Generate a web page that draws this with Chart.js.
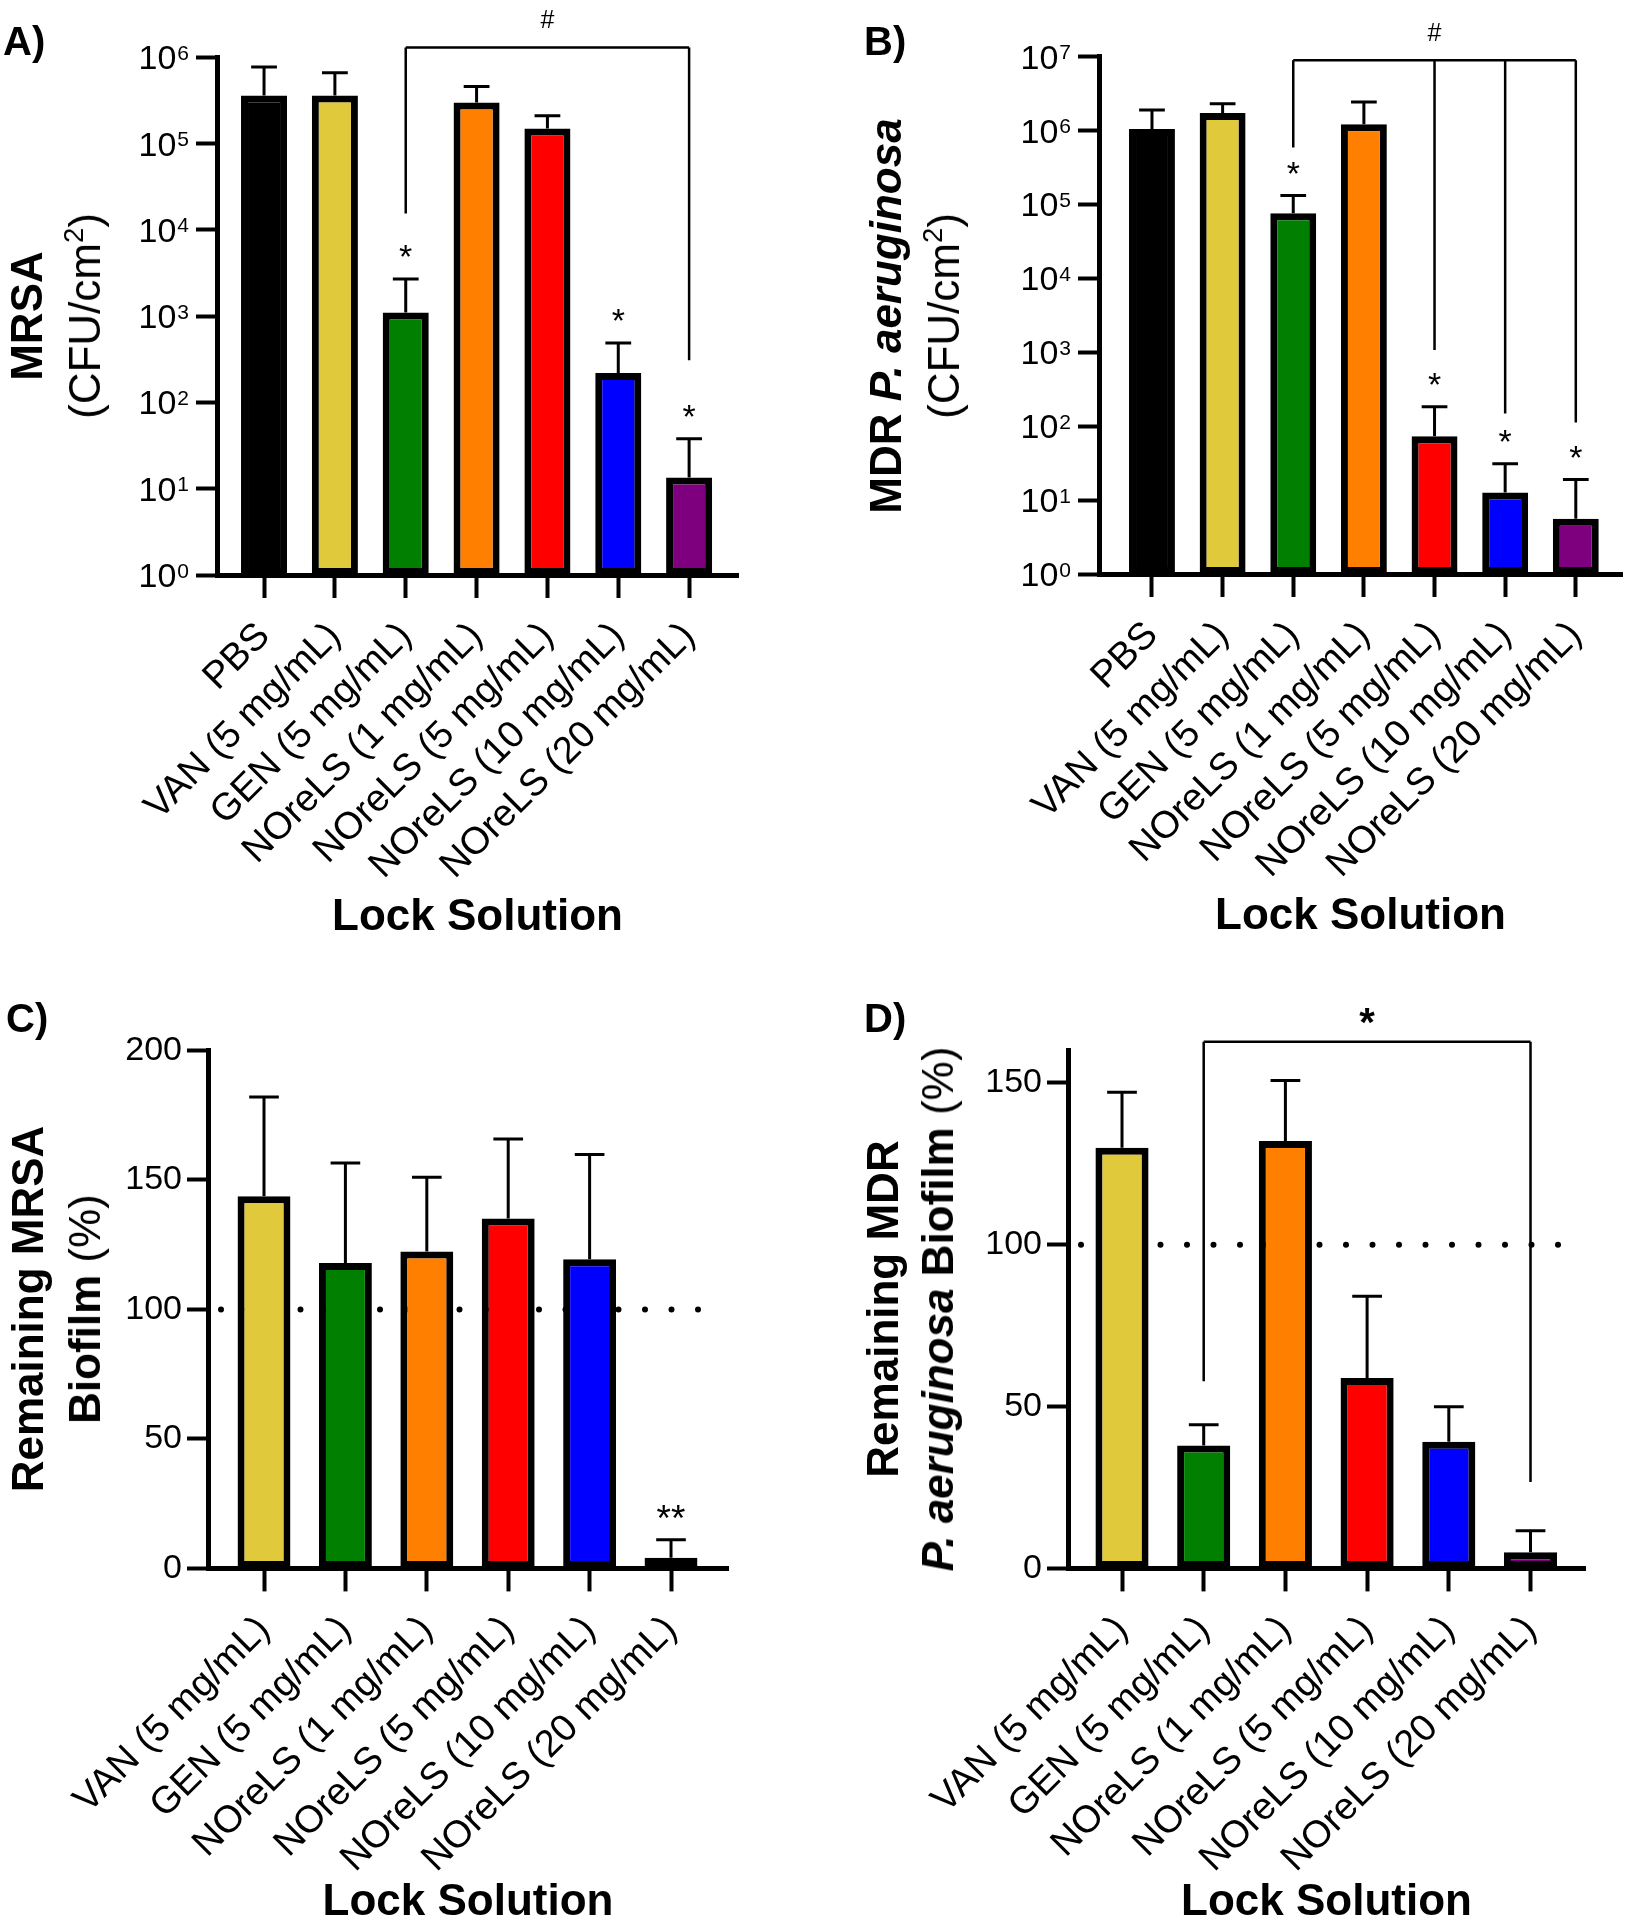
<!DOCTYPE html>
<html>
<head>
<meta charset="utf-8">
<script src="https://cdn.jsdelivr.net/npm/chart.js@4.4.1/dist/chart.umd.min.js"></script>
<style>
  body { margin: 0; background: #fff; }
  #fig { position: relative; width: 1631px; height: 1920px; overflow: hidden; font-family: 'Liberation Sans', Arial, sans-serif; color: #000; }
  canvas { position: absolute; }
  .tag { position: absolute; font-weight: bold; font-size: 40px; line-height: 1; }
  .ytitle { position: absolute; font-size: 44px; line-height: 1; white-space: nowrap; transform: translate(-50%, -50%) rotate(-90deg); }
  .ytitle sup { font-size: 0.62em; vertical-align: 0.62em; line-height: 0; }
</style>
</head>
<body>
<div id="fig">
  <canvas id="chartA" width="815" height="960" style="left:0;top:0"></canvas>
  <canvas id="chartB" width="816" height="960" style="left:815px;top:0"></canvas>
  <canvas id="chartC" width="815" height="990" style="left:0;top:960px"></canvas>
  <canvas id="chartD" width="816" height="990" style="left:815px;top:960px"></canvas>

  <div class="tag" style="left:3px;top:21px">A)</div>
  <div class="tag" style="left:864px;top:21px">B)</div>
  <div class="tag" style="left:6px;top:998px">C)</div>
  <div class="tag" style="left:864px;top:998px">D)</div>

  <div class="ytitle" style="left:27px;top:316px"><b>MRSA</b></div>
  <div class="ytitle" style="left:85px;top:316px">(CFU/cm<sup>2</sup>)</div>
  <div class="ytitle" style="left:886px;top:316px"><b>MDR <i>P. aeruginosa</i></b></div>
  <div class="ytitle" style="left:944px;top:316px">(CFU/cm<sup>2</sup>)</div>
  <div class="ytitle" style="left:28px;top:1309px"><b>Remaining MRSA</b></div>
  <div class="ytitle" style="left:85px;top:1309px"><b>Biofilm</b> (%)</div>
  <div class="ytitle" style="left:883px;top:1309px"><b>Remaining MDR</b></div>
  <div class="ytitle" style="left:938px;top:1309px"><b><i>P. aeruginosa</i> Biofilm</b> (%)</div>
</div>

<script>
const FONT = "'Liberation Sans', Arial, sans-serif";

// groups and colours
const groups7 = ['PBS', 'VAN (5 mg/mL)', 'GEN (5 mg/mL)', 'NOreLS (1 mg/mL)',
  'NOreLS (5 mg/mL)', 'NOreLS (10 mg/mL)', 'NOreLS (20 mg/mL)'];
const groups6 = groups7.slice(1);
const colors7 = ['#000000', '#E1C93C', '#007F00', '#FF7F00', '#FF0000', '#0000FF', '#7F007F'];
const colors6 = colors7.slice(1);

// A) MRSA, CFU/cm2 (mean, top of error bar)
const mrsaCfu = [3.6e5, 3.6e5, 1.1e3, 3.0e5, 1.5e5, 2.2e2, 13.5];
const mrsaCfuErr = [7.7e5, 6.6e5, 2.7e3, 4.6e5, 2.1e5, 4.9e2, 38];
const mrsaCfuStars = ['', '', '*', '', '', '*', '*'];

// B) MDR P. aeruginosa, CFU/cm2
const mdrCfu = [1.05e6, 1.72e6, 7.6e4, 1.22e6, 73, 12.7, 5.6];
const mdrCfuErr = [1.9e6, 2.3e6, 1.32e5, 2.43e6, 183, 31, 19];
const mdrCfuStars = ['', '', '*', '', '*', '*', '*'];

// C) remaining MRSA biofilm, %
const mrsaBio = [143.7, 117.9, 122.4, 135.1, 119.4, 4.1];
const mrsaBioErr = [182, 156.5, 151, 165.8, 159.8, 11.1];
const mrsaBioStars = ['', '', '', '', '', '**'];

// D) remaining MDR P. aeruginosa biofilm, %
const mdrBio = [129.9, 38.0, 132.0, 58.8, 39.1, 5.0];
const mdrBioErr = [147.1, 44.4, 150.7, 84.1, 49.9, 11.6];

// y ticks (log panels are labelled 10 with the power as superscript)
const logTicks6 = [1, 10, 100, 1e3, 1e4, 1e5, 1e6];
const logPowers6 = ['0', '1', '2', '3', '4', '5', '6'];
const logTicks7 = [1, 10, 100, 1e3, 1e4, 1e5, 1e6, 1e7];
const logPowers7 = ['0', '1', '2', '3', '4', '5', '6', '7'];
const pctTicksC = [0, 50, 100, 150, 200];
const pctTicksD = [0, 50, 100, 150];

// significance brackets: legs are [group number, value where the leg stops]
const bracketATop = 1.3e6;
const bracketALegs = [[3, 1.55e4], [7, 309]];
const bracketBTop = 8.9e6;
const bracketBLegs = [[3, 5.9e5], [5, 1.07e3], [6, 148], [7, 112]];
const bracketDTop = 162.7;
const bracketDLegs = [[2, 57.8], [6, 26.7]];

function mark(ctx, text, x, yMid, size, bold) {
  ctx.font = (bold ? 'bold ' : '') + size + 'px ' + FONT;
  ctx.textAlign = 'center';
  ctx.textBaseline = 'alphabetic';
  // asterisks sit high in the em box
  const lift = text[0] === '*' ? 0.57 : 0.36;
  ctx.fillText(text, x, yMid + lift * size);
}

function panel(id, o) {
  const canvas = document.getElementById(id);
  const W = canvas.width, H = canvas.height;
  const a = o.area;
  const titleBottom = o.titleY + 44 * 1.2 / 2;
  const tickLen = 21;

  const decor = {
    id: 'decor',
    beforeDatasetsDraw(chart) {
      if (o.refLine == null) return;
      const {ctx, chartArea} = chart;
      const py = chart.scales.y.getPixelForValue(o.refLine);
      ctx.save();
      ctx.strokeStyle = '#000';
      ctx.lineWidth = 6;
      ctx.lineCap = 'round';
      ctx.setLineDash([0, 26.5]);
      ctx.beginPath();
      ctx.moveTo(chartArea.left + 13, py);
      ctx.lineTo(chartArea.right - 8, py);
      ctx.stroke();
      ctx.restore();
    },
    afterDraw(chart) {
      const {ctx} = chart;
      const x = chart.scales.x, y = chart.scales.y;
      const meta = chart.getDatasetMeta(0);
      ctx.save();
      ctx.strokeStyle = '#000';
      ctx.fillStyle = '#000';

      // 10^n tick labels
      if (o.powers) {
        const right = chart.chartArea.left - tickLen - 7;
        o.yTicks.forEach((v, i) => {
          const py = y.getPixelForValue(v);
          ctx.textAlign = 'right';
          ctx.textBaseline = 'alphabetic';
          ctx.font = '21px ' + FONT;
          ctx.fillText(o.powers[i], right, py + 2.5);
          const w = ctx.measureText(o.powers[i]).width;
          ctx.font = '34px ' + FONT;
          ctx.fillText('10', right - w - 1, py + 12);
        });
      }

      ctx.lineWidth = 3;
      o.errors.forEach((e, i) => {
        const cx = x.getPixelForValue(i + 1);
        const y0 = y.getPixelForValue(o.values[i]);
        const y1 = y.getPixelForValue(e);
        const half = meta.data[i].width * 0.28;
        ctx.beginPath();
        ctx.moveTo(cx, y0); ctx.lineTo(cx, y1);
        ctx.moveTo(cx - half, y1); ctx.lineTo(cx + half, y1);
        ctx.stroke();
        if (o.stars && o.stars[i]) mark(ctx, o.stars[i], cx, y1 - 30, o.starSize || 34, false);
      });

      if (o.bracketLegs) {
        const top = y.getPixelForValue(o.bracketTop);
        const legs = o.bracketLegs.map(([g, v]) => [x.getPixelForValue(g), y.getPixelForValue(v)]);
        ctx.lineWidth = 2.5;
        ctx.beginPath();
        ctx.moveTo(legs[0][0], top);
        ctx.lineTo(legs[legs.length - 1][0], top);
        legs.forEach(([px, py]) => { ctx.moveTo(px, top); ctx.lineTo(px, py); });
        ctx.stroke();
        const mid = (legs[0][0] + legs[legs.length - 1][0]) / 2;
        mark(ctx, o.bracketText, mid, top - 28, o.bracketSize, o.bracketBold);
      }
      ctx.restore();
    }
  };

  return new Chart(canvas, {
    type: 'bar',
    data: {
      datasets: [{
        data: o.values.map((v, i) => ({x: i + 1, y: v})),
        backgroundColor: o.colors,
        borderColor: '#000',
        borderWidth: 7,
        borderSkipped: false,
        barPercentage: 0.65,
        categoryPercentage: 1
      }]
    },
    options: {
      responsive: false,
      animation: false,
      devicePixelRatio: 1,
      layout: {padding: {left: 0, top: a.top, right: W - a.right, bottom: H - titleBottom}},
      plugins: {legend: {display: false}, tooltip: {enabled: false}},
      scales: {
        x: {
          type: 'linear',
          min: o.xMin,
          max: o.xMax,
          offset: false,
          afterBuildTicks: s => { s.ticks = o.labels.map((_, i) => ({value: i + 1})); },
          afterFit: s => { s.height = titleBottom - a.bottom; },
          ticks: {
            autoSkip: false, minRotation: 45, maxRotation: 45, padding: 16,
            color: '#000', font: {family: FONT, size: 38},
            callback: (v, i) => o.labels[i]
          },
          grid: {display: true, offset: false, drawOnChartArea: false, drawTicks: true,
            tickLength: 23, tickWidth: 4, tickColor: '#000'},
          border: {display: true, color: '#000', width: 5},
          title: {display: true, text: 'Lock Solution', color: '#000', padding: 0,
            font: {family: FONT, size: 44, weight: 'bold'}}
        },
        y: {
          type: o.yType,
          min: o.yMin,
          max: o.yMax,
          afterBuildTicks: s => { s.ticks = o.yTicks.map(v => ({value: v})); },
          afterFit: s => { s.width = a.left; },
          ticks: {
            display: !o.powers,
            padding: 5, color: '#000', font: {family: FONT, size: 34},
            callback: (v, i) => String(o.yTicks[i])
          },
          grid: {display: true, drawOnChartArea: false, drawTicks: true,
            tickLength: tickLen, tickWidth: 4, tickColor: '#000'},
          border: {display: true, color: '#000', width: 5}
        }
      }
    },
    plugins: [decor]
  });
}

panel('chartA', {
  labels: groups7, colors: colors7, values: mrsaCfu, errors: mrsaCfuErr, stars: mrsaCfuStars,
  yType: 'logarithmic', yMin: 1, yMax: 1e6, yTicks: logTicks6, powers: logPowers6,
  area: {left: 217, right: 738, top: 57.3, bottom: 575}, xMin: 0.336, xMax: 7.69, titleY: 918,
  bracketTop: bracketATop, bracketLegs: bracketALegs, bracketText: '#', bracketSize: 25, bracketBold: false
});

panel('chartB', {
  labels: groups7, colors: colors7, values: mdrCfu, errors: mdrCfuErr, stars: mdrCfuStars,
  yType: 'logarithmic', yMin: 1, yMax: 1e7, yTicks: logTicks7, powers: logPowers7,
  area: {left: 284, right: 807, top: 56.6, bottom: 574}, xMin: 0.25, xMax: 7.654, titleY: 917,
  bracketTop: bracketBTop, bracketLegs: bracketBLegs, bracketText: '#', bracketSize: 25, bracketBold: false
});

panel('chartC', {
  labels: groups6, colors: colors6, values: mrsaBio, errors: mrsaBioErr, stars: mrsaBioStars, starSize: 37,
  yType: 'linear', yMin: 0, yMax: 200, yTicks: pctTicksC,
  area: {left: 208, right: 728, top: 90.4, bottom: 608.4}, xMin: 0.312, xMax: 6.70, titleY: 943,
  refLine: 100
});

panel('chartD', {
  labels: groups6, colors: colors6, values: mdrBio, errors: mdrBioErr,
  yType: 'linear', yMin: 0, yMax: 160, yTicks: pctTicksD,
  area: {left: 253, right: 770, top: 90.4, bottom: 608.4}, xMin: 0.339, xMax: 6.667, titleY: 943,
  refLine: 100,
  bracketTop: bracketDTop, bracketLegs: bracketDLegs, bracketText: '*', bracketSize: 40, bracketBold: true
});
</script>
</body>
</html>
